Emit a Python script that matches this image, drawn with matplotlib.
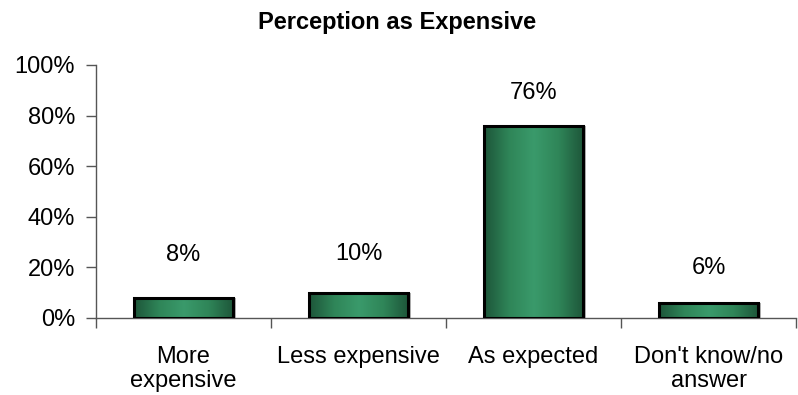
import numpy as np
import matplotlib
matplotlib.use("Agg")
import matplotlib.pyplot as plt
from matplotlib.colors import LinearSegmentedColormap
from matplotlib.transforms import offset_copy

categories = ["More\nexpensive", "Less expensive", "As expected", "Don't know/no\nanswer"]
values = [8, 10, 76, 6]
value_labels = ["8%", "10%", "76%", "6%"]
ytick_labels = ["0%", "20%", "40%", "60%", "80%", "100%"]

plt.rcParams['font.family'] = ['Liberation Sans', 'DejaVu Sans']
FS = 17

fig = plt.figure(figsize=(7.98, 3.95), dpi=100)
ax = fig.add_axes([0.1203, 0.195, 0.8772, 0.6405])

x = np.arange(len(categories))
width = 0.57

# horizontal green gradient: dark edges, lighter centre
cmap = LinearSegmentedColormap.from_list(
    "bar", ["#1d5539", "#2f8558", "#3a9a6b", "#2f8558", "#1d5539"])
grad = np.linspace(0, 1, 256).reshape(1, -1)

bars = ax.bar(x, values, width=width, facecolor="none", edgecolor="black",
              linewidth=2.2, zorder=4)
for rect in bars:
    x0, w, h = rect.get_x(), rect.get_width(), rect.get_height()
    # faint drop shadow to the right
    sh = plt.Rectangle((x0, 0), w, h, facecolor="#b0b0b0", edgecolor="none",
                       transform=offset_copy(ax.transData, fig=fig, x=2.5, y=0, units="dots"),
                       zorder=2)
    ax.add_patch(sh)
    im = ax.imshow(grad, cmap=cmap, aspect="auto", extent=(x0, x0 + w, 0, h),
                   zorder=3, interpolation="bilinear")
    im.set_clip_path(rect)

# gap (in pixels) between each bar top and its value label
label_gaps = [32, 28, 22, 24]
for xi, v, lab, gap in zip(x, values, value_labels, label_gaps):
    ax.annotate(lab, (xi, v), xytext=(0, gap * 72 / 100), textcoords="offset points",
                ha="center", va="bottom", fontsize=FS)

ax.set_xlim(-0.5, len(categories) - 0.5)
ax.set_ylim(0, 100)
ax.set_yticks(np.arange(0, 101, 20))
ax.set_yticklabels(ytick_labels, fontsize=FS)

ax.set_xticks(np.arange(-0.5, len(categories), 1.0))
ax.set_xticklabels([])
ax.set_xticks(x, minor=True)
ax.set_xticklabels(categories, minor=True, fontsize=FS, linespacing=1.15)
ax.tick_params(axis="x", which="minor", length=0, pad=20)
ax.tick_params(axis="x", which="major", length=7, color="#555555", width=1)
ax.tick_params(axis="y", length=7, color="#555555", width=1, pad=8)

for s in ("top", "right"):
    ax.spines[s].set_visible(False)
for s in ("left", "bottom"):
    ax.spines[s].set_color("#555555")
    ax.spines[s].set_linewidth(1)

fig.text(0.4975, 1 - 22 / 395, "Perception as Expensive", fontsize=FS,
         fontweight="bold", ha="center", va="center")

fig.savefig("out.png", dpi=100)
